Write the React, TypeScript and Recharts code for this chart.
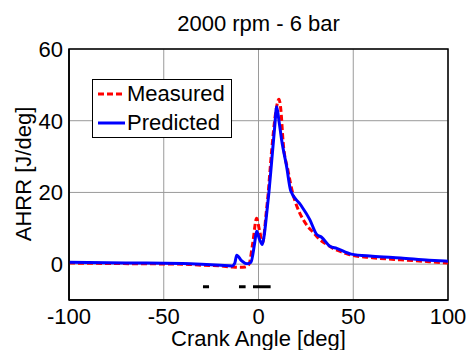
import React from 'react';
import { LineChart, Line, XAxis, YAxis, CartesianGrid, ReferenceArea } from 'recharts';

const title = '2000 rpm - 6 bar';
const xLabel = 'Crank Angle [deg]';
const yLabel = 'AHRR [J/deg]';
const xTicks = [-100, -50, 0, 50, 100];
const yTicks = [0, 20, 40, 60];

const measuredX = [-100, -80, -60, -40, -30, -20, -14, -10, -7, -5, -3, -1, 0.5, 2.2, 4, 4.8, 7, 9, 10.8, 11.8, 13, 15.6, 18.2, 20, 23.5, 26, 28.8, 32, 36, 40, 45, 49, 60, 75, 90, 100];
const measuredY = [0.3, 0.2, 0.1, 0, -0.3, -0.5, -0.8, -0.9, -0.8, 0, 6, 12.8, 9.5, 6, 14, 18, 32, 42, 46, 43, 34, 26, 19.5, 16.5, 12.5, 10.5, 8.9, 7, 5.5, 4.2, 3.2, 2.5, 1.8, 1.2, 0.7, 0.3];

const predictedX = [-100, -80, -60, -40, -30, -20, -14, -12.5, -11.5, -9, -6, -4, -2, -1, 0.5, 2, 3, 4.3, 5.5, 7, 8.5, 9.6, 10.8, 12.2, 14.9, 17, 22, 27, 30.7, 33.3, 37.7, 41.3, 49, 60, 75, 90, 100];
const predictedY = [0.5, 0.4, 0.3, 0.2, 0, -0.3, -0.5, 0.3, 2.5, 1, 0.1, 0.5, 6, 9.2, 7, 5.5, 8, 14, 20, 29, 38, 43.9, 40, 34.7, 27, 20.5, 16.7, 12.5, 8.3, 7.5, 5, 4.4, 2.8, 2.2, 1.7, 1.1, 0.8];

const markX = [-29.3, -26.1, null, -10.3, -6.8, null, -2.9, 6.4];
const markLevel = -6.3;

const measured = measuredX.map((x, i) => ({ x, y: measuredY[i] }));
const predicted = predictedX.map((x, i) => ({ x, y: predictedY[i] }));
const marks: { x: number; y: number | null }[] = [];
{
  let prev = -30;
  markX.forEach((x) => {
    if (x === null) {
      marks.push({ x: prev + 0.01, y: null });
    } else {
      marks.push({ x, y: markLevel });
      prev = x;
    }
  });
}

const font = '"Liberation Sans", Arial, sans-serif';

export default function App() {
  return (
    <div style={{ position: 'absolute', left: 0, top: 0, width: 468, height: 350, background: '#fff', fontFamily: font, overflow: 'hidden' }}>
      <LineChart width={468} height={350} margin={{ top: 49, right: 20, bottom: 0, left: 0 }}>
        <CartesianGrid stroke="#9a9a9a" strokeWidth={1} />
        <XAxis
          type="number"
          dataKey="x"
          domain={[-100, 100]}
          ticks={xTicks}
          interval={0}
          allowDataOverflow
          height={50}
          tickLine={false}
          tickSize={0}
          tickMargin={8}
          stroke="#000"
          strokeWidth={1.5}
          tick={{ fontSize: 22, fill: '#000', fontFamily: font }}
        />
        <YAxis
          type="number"
          domain={[-10, 60]}
          ticks={yTicks}
          interval={0}
          allowDataOverflow
          width={69}
          tickLine={false}
          tickSize={0}
          tickMargin={6}
          stroke="#000"
          strokeWidth={1.5}
          tick={{ fontSize: 22, fill: '#000', fontFamily: font }}
        />
        <ReferenceArea x1={-100} x2={100} y1={-10} y2={60} stroke="#000" strokeWidth={1.5} fill="none" fillOpacity={0} />
        <Line data={marks} dataKey="y" stroke="#000" strokeWidth={3} dot={false} isAnimationActive={false} connectNulls={false} type="linear" />
        <Line data={measured} dataKey="y" stroke="#ff0000" strokeWidth={3} strokeDasharray="6 3" dot={false} isAnimationActive={false} type="monotone" />
        <Line data={predicted} dataKey="y" stroke="#0000ff" strokeWidth={3} dot={false} isAnimationActive={false} type="monotone" />
      </LineChart>
      <div style={{ position: 'absolute', left: 0, width: 517, top: 11, textAlign: 'center', fontSize: 22, lineHeight: '26px', color: '#000' }}>{title}</div>
      <div style={{ position: 'absolute', left: 0, width: 517, top: 330, textAlign: 'center', fontSize: 22, lineHeight: '18px', color: '#000' }}>{xLabel}</div>
      <div style={{ position: 'absolute', left: 24 - 100, width: 200, top: 174 - 13, textAlign: 'center', fontSize: 22, lineHeight: '26px', color: '#000', transform: 'rotate(-90deg)' }}>{yLabel}</div>
      <div style={{ position: 'absolute', left: 92, top: 79, width: 140, height: 59, border: '1.5px solid #000', background: '#fff', boxSizing: 'border-box' }}>
        <svg width={30} height={58} style={{ position: 'absolute', left: 3, top: 0 }}>
          <line x1={2} x2={29} y1={14} y2={14} stroke="#ff0000" strokeWidth={3} strokeDasharray="6 3" />
          <line x1={2} x2={29} y1={43} y2={43} stroke="#0000ff" strokeWidth={3} />
        </svg>
        <div style={{ position: 'absolute', left: 34, top: 1, fontSize: 22, lineHeight: '26px', color: '#000', whiteSpace: 'nowrap' }}>Measured</div>
        <div style={{ position: 'absolute', left: 34, top: 30, fontSize: 22, lineHeight: '26px', color: '#000', whiteSpace: 'nowrap' }}>Predicted</div>
      </div>
    </div>
  );
}
